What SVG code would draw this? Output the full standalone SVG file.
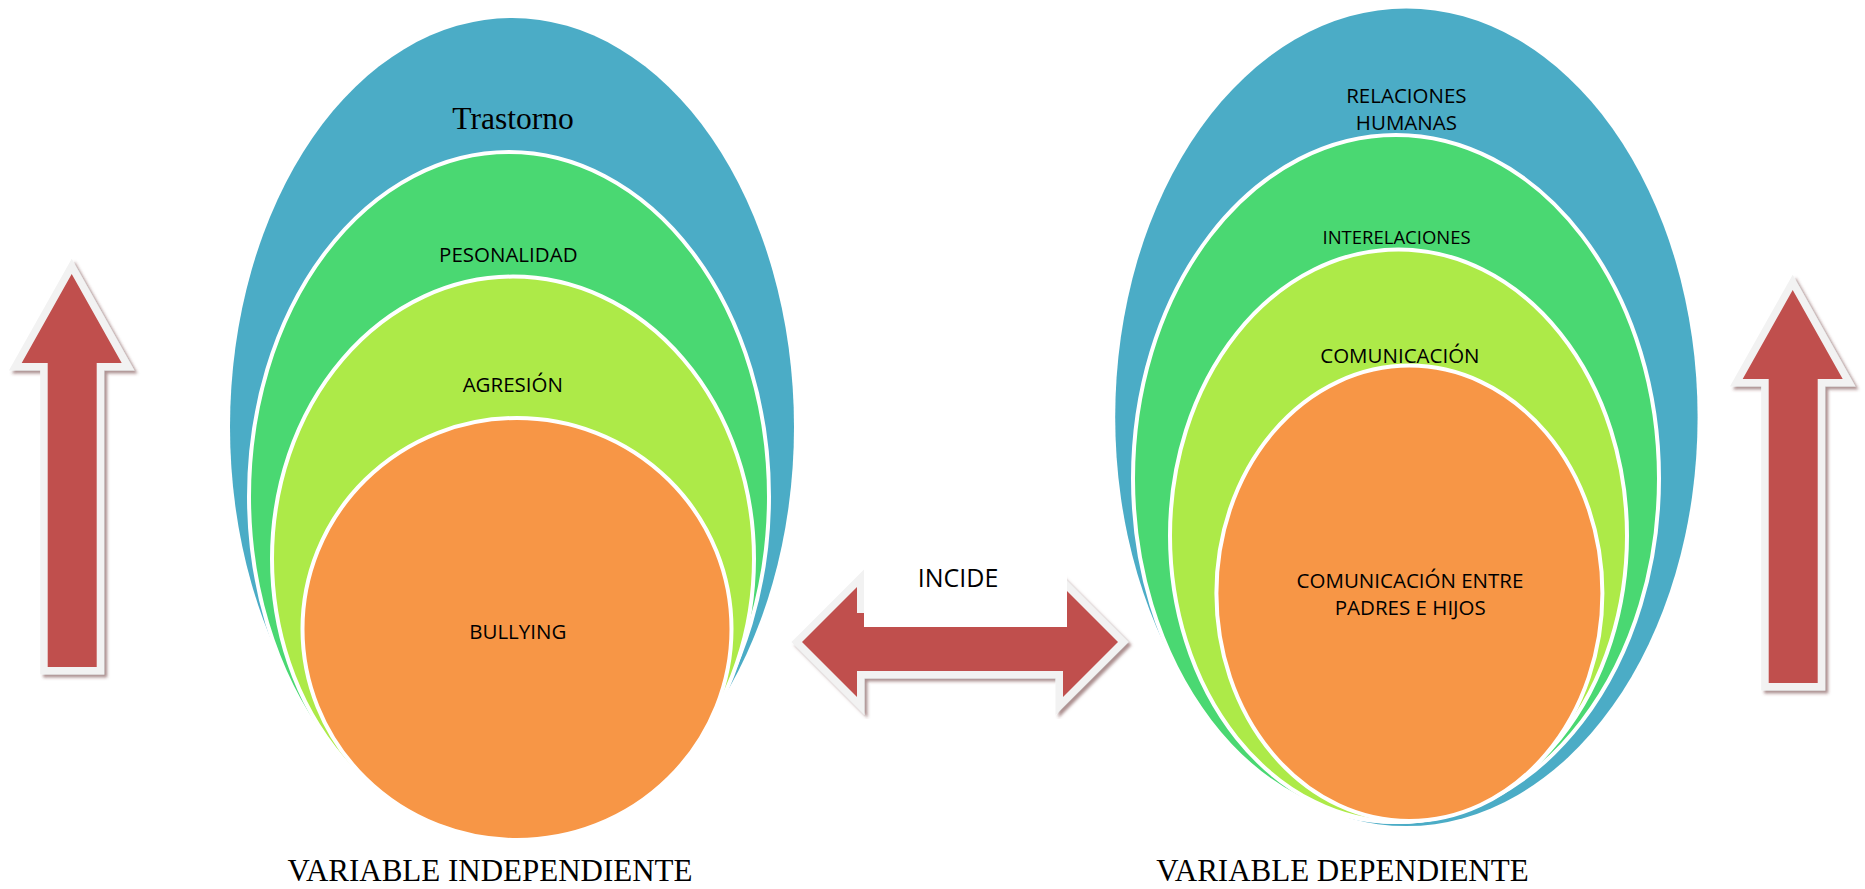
<svg xmlns="http://www.w3.org/2000/svg" width="1865" height="889" viewBox="0 0 1865 889">
<defs>
<filter id="shadow" x="-20%" y="-20%" width="140%" height="140%">
<feDropShadow dx="3" dy="3" stdDeviation="1.5" flood-color="#6b3535" flood-opacity="0.55"/>
</filter>
</defs>
<style>
.blue{fill:#4BACC6}
.green{fill:#4AD872;stroke:#FFFFFF;stroke-width:4}
.lime{fill:#ADEA48;stroke:#FFFFFF;stroke-width:4}
.orange{fill:#F79646;stroke:#FFFFFF;stroke-width:4}
.arrow{fill:#C0504D;stroke:#F2F2F2;stroke-width:15;stroke-linejoin:miter;stroke-miterlimit:6;paint-order:stroke;filter:url(#shadow)}
.lbl{font-family:'Open Sans','Liberation Sans',sans-serif;font-size:20.5px;fill:#000000;text-anchor:middle}
.small{font-size:18.5px}
.big{font-size:25px}
.serif{font-family:'Liberation Serif','Times New Roman',serif;fill:#000000;text-anchor:middle}
</style>
<rect x="0" y="0" width="1865" height="889" fill="#FFFFFF"/>

<g id="arrow-left-up">
<path class="arrow" d="M71.7,274 L121.7,363 L96.7,363 L96.7,667 L47.7,667 L47.7,363 L21.7,363 Z"/>
</g>

<g id="arrow-right-up">
<path class="arrow" d="M1792.7,290 L1842.7,379 L1817.7,379 L1817.7,683 L1768.7,683 L1768.7,379 L1742.7,379 Z"/>
</g>

<g id="independiente">
<g id="trastorno">
<ellipse class="blue" cx="512" cy="427" rx="282" ry="409"/>
<text class="serif" x="513" y="129" font-size="31.5">Trastorno</text>
</g>
<g id="pesonalidad">
<ellipse class="green" cx="509" cy="496.5" rx="260" ry="344.5"/>
<text class="lbl" x="508.3" y="262">PESONALIDAD</text>
</g>
<g id="agresion">
<ellipse class="lime" cx="513" cy="558.8" rx="241" ry="282.2"/>
<text class="lbl" x="512.8" y="392">AGRESIÓN</text>
</g>
<g id="bullying">
<ellipse class="orange" cx="517" cy="629" rx="214.5" ry="211"/>
<text class="lbl" x="517.8" y="639">BULLYING</text>
</g>
<text class="serif" x="490" y="881" font-size="31">VARIABLE INDEPENDIENTE</text>
</g>

<g id="dependiente">
<g id="relaciones-humanas">
<ellipse class="blue" cx="1406.4" cy="417.3" rx="291.2" ry="408.8"/>
<text class="lbl" x="1406.4" y="103">RELACIONES</text>
<text class="lbl" x="1406.4" y="130">HUMANAS</text>
</g>
<g id="interelaciones">
<ellipse class="green" cx="1396" cy="478.5" rx="263" ry="343.5"/>
<text class="lbl small" x="1396.6" y="244">INTERELACIONES</text>
</g>
<g id="comunicacion">
<ellipse class="lime" cx="1398.5" cy="535.7" rx="228.5" ry="286.3"/>
<text class="lbl" x="1399.9" y="363">COMUNICACIÓN</text>
</g>
<g id="comunicacion-padres-hijos">
<ellipse class="orange" cx="1409.4" cy="593.3" rx="193" ry="227.7"/>
<text class="lbl" x="1410" y="588">COMUNICACIÓN ENTRE</text>
<text class="lbl" x="1410.3" y="615">PADRES E HIJOS</text>
</g>
<text class="serif" x="1342.5" y="881" font-size="31">VARIABLE DEPENDIENTE</text>
</g>

<g id="connectors">
<path class="arrow" d="M802,642 L857,587 L857,613 L1063,613 L1063,587 L1118,642 L1063,697 L1063,671 L857,671 L857,697 Z"/>
<rect x="864" y="552" width="203" height="75" fill="#FFFFFF"/>
<text class="lbl big" x="958" y="587">INCIDE</text>
</g>
</svg>
